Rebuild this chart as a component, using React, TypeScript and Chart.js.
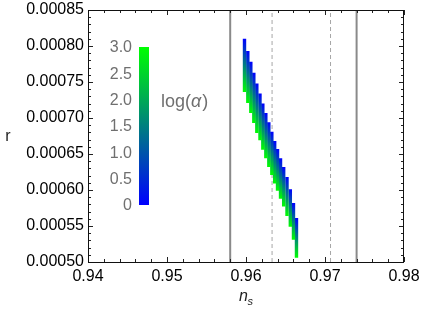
import React, { useEffect, useRef } from "react";
import { Chart, registerables } from "chart.js";

Chart.register(...registerables);

// Band columns (n_s position, r at top = log(alpha)=0 end, r at bottom = log(alpha)=3 end)
const nsValues = [
  0.95981, 0.96023, 0.96061, 0.96099, 0.96137, 0.96177, 0.96213, 0.96251, 0.96289,
  0.96327, 0.96363, 0.96399, 0.96437, 0.96477, 0.96519, 0.96561, 0.96601, 0.96639,
];
const rTop = [
  0.00081, 0.000793, 0.000778, 0.000763, 0.000748, 0.000734, 0.00072, 0.000707, 0.000694,
  0.000681, 0.000668, 0.000657, 0.000644, 0.000632, 0.000618, 0.000601, 0.000582, 0.000561,
];
const rBottom = [
  0.000736, 0.000721, 0.000707, 0.000693, 0.000679, 0.000669, 0.000656, 0.000644, 0.000632,
  0.000621, 0.000609, 0.000599, 0.000588, 0.000577, 0.000564, 0.000549, 0.000531, 0.000506,
];

const solidLines = [0.958, 0.974];
const dashedLines = [0.9633, 0.9707];

const xMajorTicks = [0.94, 0.95, 0.96, 0.97, 0.98];
const yMajorTicks = [0.0005, 0.00055, 0.0006, 0.00065, 0.0007, 0.00075, 0.0008, 0.00085];

const colorbarTicks = [0, 0.5, 1, 1.5, 2, 2.5, 3];
const colorbarLabels = ["0", "0.5", "1.0", "1.5", "2.0", "2.5", "3.0"];
const colorbarMax = 3;

const BLUE = "#0000ff";
const GREEN = "#00ff00";
const FONT = "'Liberation Sans', Arial, sans-serif";

function subdivide(majors: number[], n: number): number[] {
  const out: number[] = [];
  for (let i = 0; i < majors.length - 1; i++) {
    const a = majors[i];
    const b = majors[i + 1];
    for (let k = 1; k < n; k++) out.push(a + ((b - a) * k) / n);
  }
  return out;
}

const framePlugin = {
  id: "frameTicks",
  afterDatasetsDraw(chart: any) {
    const { ctx, chartArea, scales } = chart;
    const { left, right, top, bottom } = chartArea;
    ctx.save();
    ctx.strokeStyle = "#222";
    ctx.lineWidth = 1;
    const xMinor = subdivide(xMajorTicks, 5);
    const yMinor = subdivide(yMajorTicks, 5);
    const tick = (vals: number[], len: number) => {
      vals.forEach((v) => {
        const px = Math.round(scales.x.getPixelForValue(v)) + 0.5;
        ctx.beginPath();
        ctx.moveTo(px, bottom);
        ctx.lineTo(px, bottom - len);
        ctx.moveTo(px, top);
        ctx.lineTo(px, top + len);
        ctx.stroke();
      });
    };
    const ytick = (vals: number[], len: number) => {
      vals.forEach((v) => {
        const py = Math.round(scales.y.getPixelForValue(v)) + 0.5;
        ctx.beginPath();
        ctx.moveTo(left, py);
        ctx.lineTo(left + len, py);
        ctx.moveTo(right, py);
        ctx.lineTo(right - len, py);
        ctx.stroke();
      });
    };
    tick(xMajorTicks, 5);
    tick(xMinor, 3);
    ytick(yMajorTicks, 5);
    ytick(yMinor, 3);
    ctx.strokeStyle = "#111";
    ctx.strokeRect(Math.round(left) + 0.5, Math.round(top) + 0.5, Math.round(right - left) - 1, Math.round(bottom - top));

    // x tick labels
    ctx.fillStyle = "#000";
    ctx.font = `16px ${FONT}`;
    ctx.textAlign = "center";
    ctx.textBaseline = "middle";
    xMajorTicks.forEach((v) => {
      ctx.fillText(v.toFixed(2), scales.x.getPixelForValue(v), bottom + 15);
    });
    ctx.restore();
  },
  afterDraw(chart: any) {
    const { ctx, chartArea } = chart;
    ctx.save();
    // colorbar
    const cbLeft = chartArea.left + 51;
    const cbTop = chartArea.top + 37;
    const cbW = 10;
    const cbH = 158;
    const g = ctx.createLinearGradient(0, cbTop + cbH, 0, cbTop);
    g.addColorStop(0, BLUE);
    g.addColorStop(1, GREEN);
    ctx.fillStyle = g;
    ctx.fillRect(cbLeft, cbTop, cbW, cbH);
    ctx.fillStyle = "#6f6f6f";
    ctx.font = `16px ${FONT}`;
    ctx.textAlign = "right";
    ctx.textBaseline = "middle";
    colorbarTicks.forEach((v, i) => {
      const y = cbTop + cbH - (v / colorbarMax) * cbH;
      ctx.fillText(colorbarLabels[i], cbLeft - 7, y + 1);
    });
    // colorbar title log(α)
    ctx.textAlign = "left";
    ctx.font = `18px ${FONT}`;
    let x = cbLeft + 22;
    const ty = chartArea.top + 92;
    ctx.fillText("log(", x, ty);
    x += ctx.measureText("log(").width;
    ctx.font = `italic 18px ${FONT}`;
    ctx.fillText("α", x, ty);
    x += ctx.measureText("α").width + 1;
    ctx.font = `18px ${FONT}`;
    ctx.fillText(")", x, ty);

    // axis titles
    ctx.fillStyle = "#222";
    ctx.font = `16px ${FONT}`;
    ctx.textAlign = "center";
    ctx.fillText("r", 8, (chartArea.top + chartArea.bottom) / 2 + 1);
    const cx = (chartArea.left + chartArea.right) / 2 - 2;
    const ay = chartArea.bottom + 35;
    ctx.font = `italic 16px ${FONT}`;
    ctx.textAlign = "left";
    ctx.fillText("n", cx - 5, ay);
    ctx.font = `italic 11px ${FONT}`;
    ctx.fillText("s", cx + 3.5, ay + 5);
    ctx.restore();
  },
};

export default function App() {
  const ref = useRef<HTMLCanvasElement>(null);
  useEffect(() => {
    if (!ref.current) return;
    const columnDatasets = nsValues.map((ns, i) => ({
      data: [
        { x: ns, y: rTop[i] },
        { x: ns, y: rBottom[i] },
      ],
      showLine: true,
      pointRadius: 0,
      borderWidth: 3.4,
      order: 1,
      borderColor: (c: any) => {
        const chart = c.chart;
        const area = chart.chartArea;
        const ds = c.dataset;
        if (!area || !ds) return BLUE;
        const ys = chart.scales.y;
        const y0 = ys.getPixelForValue(ds.data[0].y);
        const y1 = ys.getPixelForValue(ds.data[1].y);
        const gr = chart.ctx.createLinearGradient(0, y0, 0, y1);
        gr.addColorStop(0, BLUE);
        gr.addColorStop(1, GREEN);
        return gr;
      },
    }));
    const lineDs = (v: number, dashed: boolean) => ({
      data: [
        { x: v, y: 0.0005 },
        { x: v, y: 0.00085 },
      ],
      showLine: true,
      pointRadius: 0,
      borderWidth: dashed ? 1 : 2,
      borderColor: dashed ? "#a6a6a6" : "#8a8a8a",
      borderDash: dashed ? [4, 3] : [],
      order: 2,
    });
    const chart = new Chart(ref.current, {
      type: "scatter",
      data: {
        datasets: [
          ...columnDatasets,
          ...solidLines.map((v) => lineDs(v, false)),
          ...dashedLines.map((v) => lineDs(v, true)),
        ] as any,
      },
      plugins: [framePlugin],
      options: {
        animation: false,
        responsive: false,
        events: [],
        layout: { padding: { top: 10, right: 17, left: 0, bottom: 0 } },
        plugins: { legend: { display: false }, tooltip: { enabled: false } },
        scales: {
          x: {
            type: "linear",
            min: 0.94,
            max: 0.98,
            grid: { display: false, drawTicks: false, tickLength: 0 },
            border: { display: false },
            afterBuildTicks: (s: any) => {
              s.ticks = xMajorTicks.map((v) => ({ value: v }));
            },
            afterFit: (s: any) => {
              s.height = 48;
              s.paddingLeft = 0;
              s.paddingRight = 0;
            },
            ticks: { display: false },
          },
          y: {
            type: "linear",
            min: 0.0005,
            max: 0.00085,
            grid: { display: false, drawTicks: false, tickLength: 0 },
            border: { display: false },
            afterBuildTicks: (s: any) => {
              s.ticks = yMajorTicks.map((v) => ({ value: v }));
            },
            afterFit: (s: any) => {
              s.width = 88;
              s.paddingTop = 0;
              s.paddingBottom = 0;
            },
            ticks: {
              color: "#000",
              padding: 4,
              font: { family: FONT, size: 16 },
              callback: (v: any) => Number(v).toFixed(5),
            },
          },
        },
      } as any,
    });
    return () => chart.destroy();
  }, []);
  return (
    <div style={{ position: "fixed", left: 0, top: 0, width: 421, height: 310, background: "#fff" }}>
      <canvas ref={ref} width={421} height={310} style={{ display: "block" }} />
    </div>
  );
}
